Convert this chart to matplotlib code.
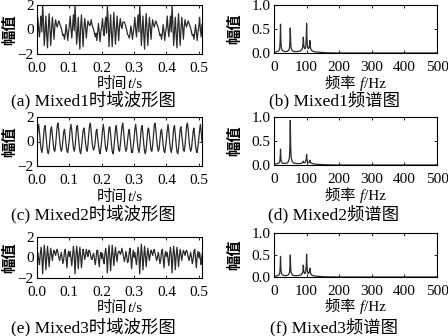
import numpy as np
import matplotlib
matplotlib.use("Agg")
import matplotlib.pyplot as plt
from matplotlib.offsetbox import TextArea, HPacker, AnnotationBbox

plt.rcParams['font.family'] = ['Liberation Serif', 'Noto Sans CJK SC']
plt.rcParams['axes.unicode_minus'] = True

# time-domain samples (step 0.0025 s)
dt = 0.0025
mixed1 = [
    0.2, 1.0, 0.0, -0.6, 0.4, 1.1, -0.2, 2.0, 0.6, -1.3,
    -0.2, 1.1, -0.4, -1.5, 0.2, 1.3, 0.0, -1.3, 0.0, 1.0,
    0.2, -0.8, 0.2, 0.8, 0.4, 0.2, 0.5, 0.7, 0.5, 0.3,
    0.1, -0.2, -0.5, -0.4, -0.8, -0.3, 0.4, -0.2, -0.9, -0.2,
    0.3, 1.1, 0.1, -0.7, 0.3, 1.2, -0.1, 2.1, 0.5, -1.2,
    -0.3, 1.0, -0.5, -1.6, 0.3, 1.2, -0.1, -1.4, 0.1, 0.9,
    0.3, -0.7, 0.1, 0.7, 0.5, 0.3, 0.4, 0.8, 0.4, 0.2,
    0.0, -0.3, -0.6, -0.3, -0.9, -0.2, 0.5, -0.3, -1.0, -0.1,
    0.2, 0.9, -0.1, -0.5, 0.5, 1.0, -0.3, 1.9, 0.7, -1.4,
    -0.1, 1.2, -0.3, -1.4, 0.1, 1.4, 0.1, -1.2, -0.1, 1.1,
    0.1, -0.9, 0.3, 0.9, 0.3, 0.1, 0.6, 0.6, 0.6, 0.4,
    0.2, -0.1, -0.4, -0.5, -0.7, -0.4, 0.3, -0.1, -0.8, -0.3,
    0.3, 1.0, 0.0, -0.6, 0.4, 1.2, -0.2, 2.0, 0.6, -1.3,
    -0.2, 1.1, -0.4, -1.6, 0.2, 1.3, 0.0, -1.3, 0.0, 1.0,
    0.2, -0.8, 0.2, 0.8, 0.4, 0.2, 0.5, 0.7, 0.5, 0.3,
    0.1, -0.2, -0.5, -0.4, -0.8, -0.3, 0.4, -0.2, -0.9, -0.2,
    0.2, 1.1, 0.1, -0.6, 0.3, 1.1, -0.2, 2.0, 0.5, -1.3,
    -0.2, 1.0, -0.4, -1.5, 0.2, 1.3, -0.1, -1.3, 0.0, 1.0,
    0.2, -0.8, 0.2, 0.8, 0.4, 0.2, 0.5, 0.7, 0.5, 0.3,
    0.1, -0.2, -0.5, -0.4, -0.8, -0.3, 0.4, -0.2, -0.9, -0.2,
    0.2, 1.0, 0.0, -0.6, 0.4,
]
mixed2 = [
    0.1, 0.9, 1.4, 0.8, 0.0, -0.6, -0.9, -0.5,
    0.3, 1.1, 1.3, 0.6, -0.2, -0.8, -1.0, -0.6,
    0.2, 1.0, 1.2, 0.5, -0.1, -0.7, -0.8, -0.3,
    0.5, 1.3, 1.5, 0.9, 0.1, -0.5, -0.8, -0.6,
    0.1, 0.8, 1.0, 0.4, -0.3, -0.8, -0.9, -0.4,
    0.2, 1.0, 1.4, 0.9, 0.1, -0.5, -0.8, -0.5,
    0.3, 1.2, 1.3, 0.5, -0.2, -0.8, -1.0, -0.5,
    0.2, 0.9, 1.1, 0.6, -0.1, -0.6, -0.8, -0.3,
    0.6, 1.3, 1.5, 0.8, 0.0, -0.5, -0.7, -0.5,
    0.0, 0.8, 1.0, 0.3, -0.3, -0.8, -1.0, -0.5,
    0.1, 0.9, 1.4, 0.8, 0.0, -0.6, -0.8, -0.4,
    0.3, 1.1, 1.2, 0.6, -0.2, -0.8, -1.0, -0.6,
    0.2, 1.0, 1.3, 0.6, -0.1, -0.7, -0.8, -0.3,
    0.5, 1.2, 1.5, 0.9, 0.1, -0.5, -0.8, -0.6,
    0.1, 0.7, 1.0, 0.4, -0.3, -0.9, -0.9, -0.4,
    0.2, 1.0, 1.4, 0.8, 0.0, -0.6, -0.9, -0.5,
    0.3, 1.1, 1.3, 0.6, -0.2, -0.8, -1.0, -0.6,
    0.2, 1.0, 1.1, 0.5, -0.1, -0.7, -0.8, -0.3,
    0.5, 1.3, 1.5, 0.9, 0.1, -0.5, -0.8, -0.6,
    0.1, 0.8, 1.0, 0.4, -0.3, -0.8, -0.9, -0.4,
    0.2, 0.9, 1.4, 0.8, 0.0, -0.6, -0.9, -0.5,
    0.3, 1.1, 1.3, 0.6, -0.2, -0.8, -1.0, -0.6,
    0.2, 1.0, 1.2, 0.5, -0.1, -0.7, -0.8, -0.3,
    0.5, 1.3, 1.5, 0.9, 0.1, -0.5, -0.8, -0.6,
    0.1, 0.8, 1.1, 0.4, -0.3, -0.8, -0.9, -0.4,
    0.2, 0.9, 1.4, 0.8, 0.0,
]
mixed3 = [
    0.0, 0.5, -0.2, -0.7, 0.3, 1.0, 0.2, -1.6, 0.0, 1.2,
    0.3, -1.2, 0.0, 1.1, 0.2, -0.9, 0.1, 0.9, 0.3, -0.3,
    0.3, 0.7, 0.5, 0.2, 0.6, 0.8, 0.4, 0.0, -0.3, 0.1,
    0.5, 0.0, -0.6, -0.2, 0.6, 0.8, -0.1, -1.0, 0.1, 0.6,
    0.1, 0.6, -0.1, -0.8, 0.2, 1.1, 0.3, -1.6, -0.1, 1.1,
    0.4, -1.1, 0.1, 1.0, 0.1, -1.0, 0.0, 0.8, 0.4, -0.2,
    0.2, 0.8, 0.4, 0.1, 0.7, 0.7, 0.3, -0.1, -0.2, 0.2,
    0.4, -0.1, -0.7, -0.1, 0.7, 0.7, -0.2, -0.9, 0.2, 0.5,
    -0.1, 0.4, -0.3, -0.6, 0.4, 0.9, 0.1, -1.5, 0.1, 1.2,
    0.2, -1.3, -0.1, 1.2, 0.3, -0.8, 0.2, 1.0, 0.2, -0.4,
    0.4, 0.6, 0.6, 0.3, 0.5, 0.9, 0.5, 0.1, -0.4, 0.0,
    0.6, 0.1, -0.5, -0.3, 0.5, 0.9, 0.0, -1.1, 0.0, 0.7,
    0.0, 0.5, -0.2, -0.7, 0.3, 1.0, 0.2, -1.6, 0.0, 1.3,
    0.3, -1.2, 0.0, 1.1, 0.2, -0.9, 0.1, 0.9, 0.3, -0.3,
    0.3, 0.7, 0.5, 0.2, 0.6, 0.8, 0.4, 0.0, -0.3, 0.1,
    0.5, 0.0, -0.6, -0.2, 0.6, 0.8, -0.1, -1.0, 0.1, 0.6,
    0.1, 0.5, -0.2, -0.8, 0.3, 1.0, 0.2, -1.5, 0.0, 1.1,
    0.3, -1.2, 0.1, 1.0, 0.2, -0.9, 0.1, 0.8, 0.3, -0.3,
    0.3, 0.7, 0.5, 0.2, 0.6, 0.7, 0.4, 0.0, -0.3, 0.1,
    0.5, 0.0, -0.6, -0.2, 0.6, 0.8, -0.1, -1.0, 0.1, 0.6,
    0.0, 0.5, -0.2, -0.7, 0.3,
]

# amplitude spectra (Hz, normalised amplitude)
freq = [
    0, 5, 10, 14, 17,
    18, 19, 20, 21, 22,
    23, 26, 30, 35, 40, 44, 47,
    48, 49, 50, 51, 52,
    53, 56, 60, 65, 70, 75, 80, 84, 87,
    88, 89, 90, 91, 92,
    93, 95, 97,
    98, 99, 100, 101, 102,
    103, 105, 107,
    108, 109, 110, 111, 112,
    113, 116, 120, 125, 130, 140, 150, 160, 180, 200, 300, 400, 500,
]
spec1 = [
    0.01, 0.02, 0.03, 0.04, 0.08,
    0.14, 0.30, 0.60, 0.30, 0.14,
    0.09, 0.05, 0.035, 0.03, 0.035, 0.05, 0.09,
    0.14, 0.28, 0.52, 0.28, 0.14,
    0.09, 0.05, 0.035, 0.03, 0.03, 0.035, 0.04, 0.06, 0.10,
    0.13, 0.20, 0.33, 0.20, 0.13,
    0.10, 0.09, 0.12,
    0.18, 0.32, 0.62, 0.32, 0.18,
    0.12, 0.09, 0.10,
    0.13, 0.17, 0.26, 0.17, 0.12,
    0.08, 0.05, 0.035, 0.025, 0.02, 0.015, 0.01, 0.005, 0.002, 0.001, 0, 0, 0,
]
spec2 = [
    0.01, 0.02, 0.03, 0.035, 0.06,
    0.09, 0.17, 0.33, 0.17, 0.09,
    0.06, 0.04, 0.035, 0.035, 0.04, 0.07, 0.14,
    0.24, 0.45, 0.93, 0.45, 0.24,
    0.14, 0.07, 0.045, 0.035, 0.03, 0.03, 0.03, 0.035, 0.045,
    0.05, 0.06, 0.08, 0.06, 0.05,
    0.045, 0.05, 0.07,
    0.09, 0.13, 0.22, 0.13, 0.09,
    0.06, 0.05, 0.05,
    0.06, 0.07, 0.10, 0.07, 0.06,
    0.045, 0.035, 0.025, 0.02, 0.015, 0.01, 0.008, 0.005, 0.002, 0.001, 0, 0, 0,
]
spec3 = [
    0.01, 0.02, 0.03, 0.04, 0.07,
    0.12, 0.24, 0.47, 0.24, 0.12,
    0.08, 0.05, 0.035, 0.03, 0.035, 0.05, 0.09,
    0.13, 0.26, 0.50, 0.26, 0.13,
    0.09, 0.05, 0.035, 0.03, 0.03, 0.035, 0.04, 0.055, 0.09,
    0.11, 0.16, 0.27, 0.16, 0.11,
    0.09, 0.08, 0.11,
    0.16, 0.28, 0.52, 0.28, 0.16,
    0.11, 0.08, 0.09,
    0.11, 0.14, 0.20, 0.14, 0.10,
    0.07, 0.045, 0.03, 0.022, 0.018, 0.012, 0.008, 0.004, 0.002, 0.001, 0, 0, 0,
]

waves = [mixed1, mixed2, mixed3]
specs = [spec1, spec2, spec3]
left_caps = ['(a) Mixed1时域波形图', '(c) Mixed2时域波形图', '(e) Mixed3时域波形图']
right_caps = ['(b) Mixed1频谱图', '(d) Mixed2频谱图', '(f) Mixed3频谱图']

W, H = 448, 336
fig = plt.figure(figsize=(W / 100, H / 100), dpi=100)

# pixel boxes (left, top, right, bottom)
left_boxes = [(37, 5, 202, 54), (37, 117, 202, 166), (37, 237, 202, 278)]
right_boxes = [(274, 5, 437, 53), (274, 117, 437, 165), (274, 233, 437, 277)]
left_xlab_y = [84, 197, 308]
right_xlab_y = [84, 196, 307]
cap_y = [100, 214, 327]

fs = 11
lc = '#2b2b2b'


def px_axes(box):
    l, t, r, b = box
    return fig.add_axes([l / W, 1 - b / H, (r - l) / W, (b - t) / H])


def style(ax, xpad):
    ax.tick_params(direction='in', top=True, right=True, length=2.5, width=0.6,
                   labelsize=fs)
    ax.tick_params(axis='x', pad=xpad)
    ax.tick_params(axis='y', pad=2.5)
    for s in ax.spines.values():
        s.set_linewidth(0.8)


def rich_label(parts, x_px, y_px):
    # chinese text + italic symbol + unit, packed side by side
    boxes = [TextArea(s, textprops=dict(fontsize=fs, style=st)) for s, st in parts]
    pack = HPacker(children=boxes, align='baseline', pad=0, sep=0)
    ab = AnnotationBbox(pack, (x_px / W, 1 - y_px / H), xycoords='figure fraction',
                        frameon=False, box_alignment=(0.5, 0.5), pad=0)
    fig.add_artist(ab)


for i in range(3):
    ax = px_axes(left_boxes[i])
    y = np.array(waves[i])
    t = np.arange(len(y)) * dt
    ax.plot(t, y, color=lc, lw=0.9)
    ax.set_xlim(0, 0.51)
    ax.set_ylim(-2, 2)
    ax.set_xticks([0, 0.1, 0.2, 0.3, 0.4, 0.5])
    ax.set_xticklabels(['0.0', '0.1', '0.2', '0.3', '0.4', '0.5'])
    ax.set_yticks([-2, 0, 2])
    style(ax, 6)
    ax.set_ylabel('幅值', fontsize=11, fontweight='bold')
    ax.yaxis.set_label_coords(-0.12, 0.5)
    l, _, r, _ = left_boxes[i]
    rich_label([('时间', 'normal'), ('t', 'italic'), ('/s', 'normal')], (l + r) / 2, left_xlab_y[i])
    fig.text(93 / W, 1 - cap_y[i] / H, left_caps[i], ha='center', va='center', fontsize=12.5)

    ax = px_axes(right_boxes[i])
    ax.plot(freq, specs[i], color=lc, lw=0.9)
    ax.set_xlim(0, 500)
    ax.set_ylim(0, 1)
    ax.set_xticks([0, 100, 200, 300, 400, 500])
    ax.set_yticks([0, 0.5, 1.0])
    ax.set_yticklabels(['0.0', '0.5', '1.0'])
    style(ax, 5.5)
    ax.set_ylabel('幅值', fontsize=11, fontweight='bold')
    ax.yaxis.set_label_coords(-0.195, 0.5)
    l, _, r, _ = right_boxes[i]
    rich_label([('频率 ', 'normal'), ('f', 'italic'), ('/Hz', 'normal')], (l + r) / 2, right_xlab_y[i])
    fig.text(334 / W, 1 - cap_y[i] / H, right_caps[i], ha='center', va='center', fontsize=12.5)

fig.savefig('out.png', dpi=100)
